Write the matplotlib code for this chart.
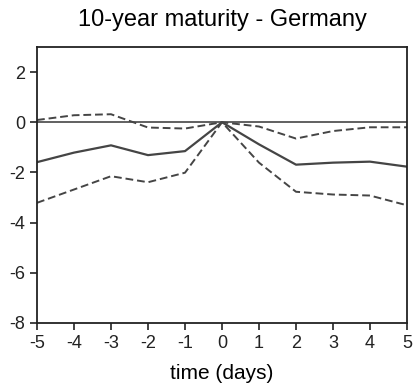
import numpy as np
import matplotlib.pyplot as plt

plt.rcParams['font.family'] = ['Liberation Sans', 'DejaVu Sans']
plt.rcParams['axes.unicode_minus'] = False

dias = [-5, -4, -3, -2, -1, 0, 1, 2, 3, 4, 5]
media = [-1.59, -1.21, -0.92, -1.31, -1.15, 0, -0.88, -1.69, -1.61, -1.57, -1.77]
superior = [0.09, 0.28, 0.32, -0.21, -0.25, 0, -0.17, -0.65, -0.35, -0.20, -0.20]
inferior = [-3.21, -2.68, -2.15, -2.39, -2.01, 0, -1.61, -2.77, -2.88, -2.92, -3.31]

cor = '#454545'

fig = plt.figure(figsize=(4.14, 3.89), dpi=100)
ax = fig.add_axes([0.0894, 0.1697, 0.8937, 0.7095])

ax.axhline(0, color=cor, lw=1.2)
ax.plot(dias, media, color=cor, lw=1.6)
ax.plot(dias, superior, color=cor, lw=1.4, ls=(0, (4, 2)))
ax.plot(dias, inferior, color=cor, lw=1.4, ls=(0, (4, 2)))

ax.set_xlim(-5, 5)
ax.set_ylim(-8, 3)
ax.set_xticks(dias)
ax.set_xticklabels([str(d) for d in dias])
ax.set_yticks([-8, -6, -4, -2, 0, 2])
ax.tick_params(direction='out', length=5, width=1.2, labelsize=13, colors='#222222')
for s in ax.spines.values():
    s.set_linewidth(1.3)
    s.set_color('#222222')

ax.set_xlabel('time (days)', fontsize=15, labelpad=9)
ax.set_title('10-year maturity - Germany', fontsize=17, pad=15)

fig.savefig('out.png', dpi=100)
